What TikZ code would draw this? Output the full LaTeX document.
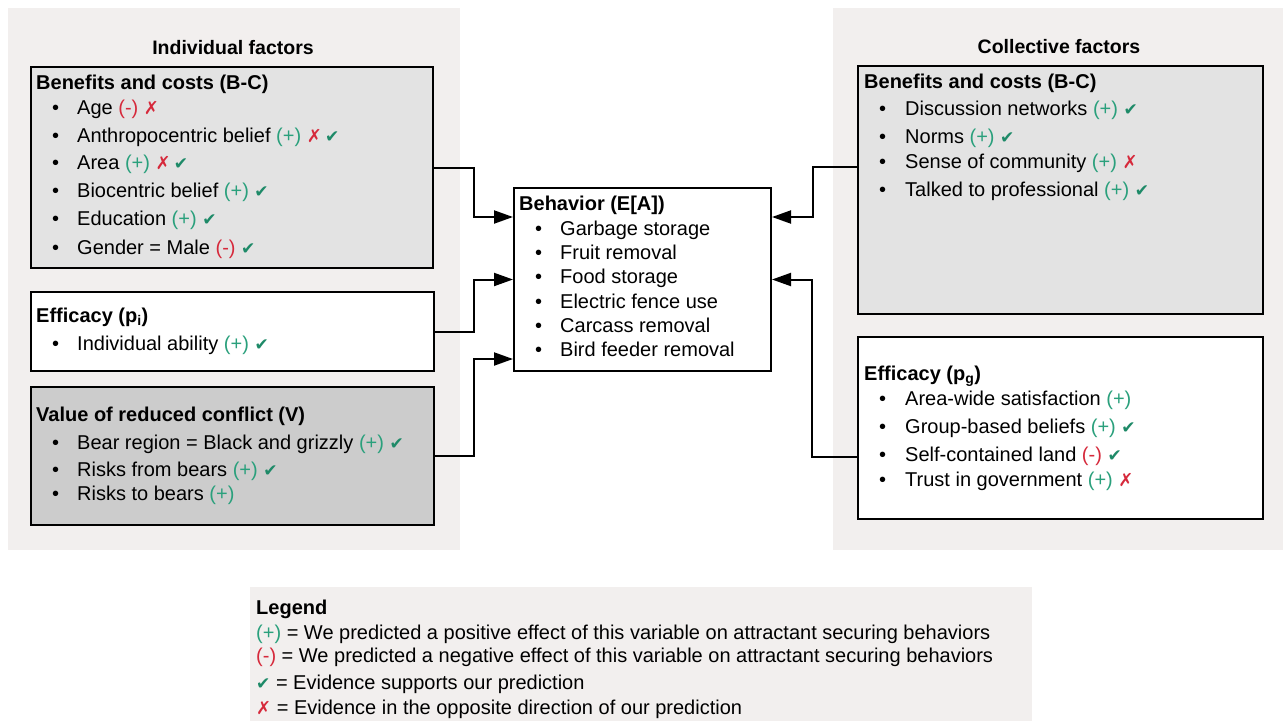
\documentclass[tikz,border=0pt]{standalone}
\usepackage{fontspec}
\setmainfont{Liberation Sans}
\newfontfamily\symfont{DejaVu Sans}
\usetikzlibrary{arrows.meta}
\definecolor{pgreen}{HTML}{2AA07C}
\definecolor{cgreen}{HTML}{1E8A68}
\definecolor{nred}{HTML}{D6293B}
\definecolor{panel}{HTML}{F2EFEE}
\definecolor{lgray}{HTML}{E3E3E3}
\definecolor{dgray}{HTML}{CCCCCC}
\newcommand\mpos{\textcolor{pgreen}{(+)}}
\newcommand\mneg{\textcolor{nred}{(-)}}
\newcommand\mchk{{\symfont\fontsize{17}{17}\selectfont\textcolor{cgreen}{✔}}}
\newcommand\mycross{{\symfont\fontsize{18}{18}\selectfont\textcolor{nred}{✗}}}
\tikzset{
  box/.style={draw=black, line width=2pt, anchor=north west, inner sep=0pt},
  txt/.style={anchor=base west, inner sep=0pt, font=\fontsize{20}{24}\selectfont},
  ttl/.style={anchor=base west, inner sep=0pt, font=\fontsize{20}{24}\selectfont\bfseries},
  hdr/.style={anchor=base, inner sep=0pt, font=\fontsize{19.5}{24}\selectfont\bfseries},
  leg/.style={anchor=base west, inner sep=0pt, font=\fontsize{20}{24}\selectfont},
  conn/.style={line width=2pt, -{Triangle[length=19pt,width=13pt]}}
}
\begin{document}
\begin{tikzpicture}[x=1pt,y=-1pt]
\useasboundingbox (0,0) rectangle (1283,721);
\fill[white] (0,0) rectangle (1283,721);
% panels
\fill[panel] (8,8) rectangle (460,550);
\fill[panel] (833,8) rectangle (1283,550);
\fill[panel] (250,587) rectangle (1032,721);
% headers
\node[hdr] (hl) at (233,54) {Individual factors};
\node[hdr] (hr) at (1059,53) {Collective factors};
% boxes
\node[box, fill=lgray, minimum width=402pt, minimum height=201pt] (lbc) at (30,66) {};
\node[box, fill=white, minimum width=403pt, minimum height=79pt] (lef) at (30,291) {};
\node[box, fill=dgray, minimum width=403pt, minimum height=138pt] (lv) at (30,386) {};
\node[box, fill=white, minimum width=257pt, minimum height=183pt] (beh) at (513,187) {};
\node[box, fill=lgray, minimum width=405pt, minimum height=248pt] (rbc) at (857,65) {};
\node[box, fill=white, minimum width=405pt, minimum height=182pt] (ref) at (857,336) {};
% left benefits and costs
\node[ttl] (lbct) at (36,89) {Benefits and costs (B-C)};
\node[txt] (lbcb1) at (52,114) {\textbullet};
\node[txt] (lbc1) at (77,114) {Age \mneg{} \mycross};
\node[txt] (lbcb2) at (52,142) {\textbullet};
\node[txt] (lbc2) at (77,142) {Anthropocentric belief \mpos{} \mycross\,\mchk};
\node[txt] (lbcb3) at (52,169) {\textbullet};
\node[txt] (lbc3) at (77,169) {Area \mpos{} \mycross\,\mchk};
\node[txt] (lbcb4) at (52,197) {\textbullet};
\node[txt] (lbc4) at (77,197) {Biocentric belief \mpos{} \mchk};
\node[txt] (lbcb5) at (52,225) {\textbullet};
\node[txt] (lbc5) at (77,225) {Education \mpos{} \mchk};
\node[txt] (lbcb6) at (52,254) {\textbullet};
\node[txt] (lbc6) at (77,254) {Gender = Male \mneg{} \mchk};
% left efficacy
\node[ttl] (left) at (36,322) {Efficacy (p\textsubscript{i})};
\node[txt] (lefb1) at (52,350) {\textbullet};
\node[txt] (lef1) at (77,350) {Individual ability \mpos{} \mchk};
% value
\node[ttl] (lvt) at (36,421) {Value of reduced conflict (V)};
\node[txt] (lvb1) at (52,449) {\textbullet};
\node[txt] (lv1) at (77,449) {Bear region = Black and grizzly \mpos{} \mchk};
\node[txt] (lvb2) at (52,476) {\textbullet};
\node[txt] (lv2) at (77,476) {Risks from bears \mpos{} \mchk};
\node[txt] (lvb3) at (52,500) {\textbullet};
\node[txt] (lv3) at (77,500) {Risks to bears \mpos};
% behavior
\node[ttl] (beht) at (519,210) {Behavior (E[A])};
\node[txt] (behb1) at (535,235) {\textbullet};
\node[txt] (beh1) at (560,235) {Garbage storage};
\node[txt] (behb2) at (535,259) {\textbullet};
\node[txt] (beh2) at (560,259) {Fruit removal};
\node[txt] (behb3) at (535,283) {\textbullet};
\node[txt] (beh3) at (560,283) {Food storage};
\node[txt] (behb4) at (535,308) {\textbullet};
\node[txt] (beh4) at (560,308) {Electric fence use};
\node[txt] (behb5) at (535,332) {\textbullet};
\node[txt] (beh5) at (560,332) {Carcass removal};
\node[txt] (behb6) at (535,356) {\textbullet};
\node[txt] (beh6) at (560,356) {Bird feeder removal};
% right benefits and costs
\node[ttl] (rbct) at (864,88) {Benefits and costs (B-C)};
\node[txt] (rbcb1) at (879,115) {\textbullet};
\node[txt] (rbc1) at (905,115) {Discussion networks \mpos{} \mchk};
\node[txt] (rbcb2) at (879,143) {\textbullet};
\node[txt] (rbc2) at (905,143) {Norms \mpos{} \mchk};
\node[txt] (rbcb3) at (879,168) {\textbullet};
\node[txt] (rbc3) at (905,168) {Sense of community \mpos{} \mycross};
\node[txt] (rbcb4) at (879,196) {\textbullet};
\node[txt] (rbc4) at (905,196) {Talked to professional \mpos{} \mchk};
% right efficacy
\node[ttl] (reft) at (864,380) {Efficacy (p\textsubscript{g})};
\node[txt] (refb1) at (879,405) {\textbullet};
\node[txt] (ref1) at (905,405) {Area-wide satisfaction \mpos};
\node[txt] (refb2) at (879,433) {\textbullet};
\node[txt] (ref2) at (905,433) {Group-based beliefs \mpos{} \mchk};
\node[txt] (refb3) at (879,461) {\textbullet};
\node[txt] (ref3) at (905,461) {Self-contained land \mneg{} \mchk};
\node[txt] (refb4) at (879,486) {\textbullet};
\node[txt] (ref4) at (905,486) {Trust in government \mpos{} \mycross};
% legend
\node[ttl] (legt) at (256,614) {Legend};
\node[leg] (leg1) at (256,639) {\mpos{} = We predicted a positive effect of this variable on attractant securing behaviors};
\node[leg] (leg2) at (256,662) {\mneg{} = We predicted a negative effect of this variable on attractant securing behaviors};
\node[leg] (leg3) at (256,689) {\mchk{} = Evidence supports our prediction};
\node[leg] (leg4) at (256,714) {\mycross{} = Evidence in the opposite direction of our prediction};
% connectors
\draw[conn] (lbc.east) -- ++(40,0) |- ([yshift=62.5pt]beh.west);
\draw[conn] (lef.east) -- ++(39,0) |- (beh.west);
\draw[conn] (lv.east) -- ++(39,0) |- ([yshift=-79.5pt]beh.west);
\draw[conn] ([yshift=23pt]rbc.west) -- ++(-44,0) |- ([yshift=62.5pt]beh.east);
\draw[conn] ([yshift=-29pt]ref.west) -- ++(-45,0) |- (beh.east);
\end{tikzpicture}
\end{document}
